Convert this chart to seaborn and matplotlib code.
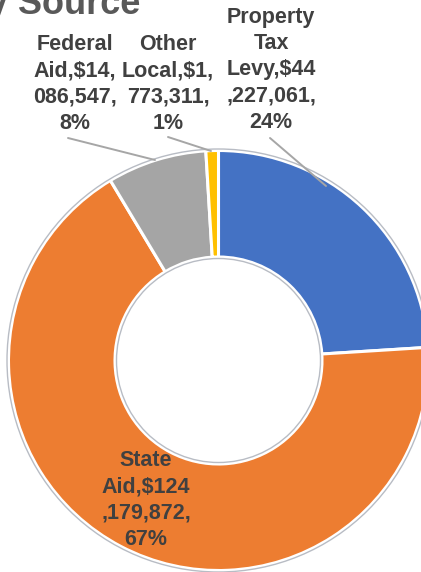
import numpy as np
import matplotlib
matplotlib.use('Agg')
import matplotlib.pyplot as plt
import seaborn as sns
from matplotlib.patches import Circle

# revenue sources, clockwise from 12 o'clock
sources = ['Property Tax Levy', 'State Aid', 'Federal Aid', 'Other Local']
amounts = [44227061, 124179872, 14086547, 1773311]
colors = ['#4472C4', '#ED7D31', '#A5A5A5', '#FFC000']
# data labels as wrapped in the original
label_text = ['Property\nTax\nLevy,$44\n,227,061,\n24%',
              'State\nAid,$124\n,179,872,\n67%',
              'Federal\nAid,$14,\n086,547,\n8%',
              'Other\nLocal,$1,\n773,311,\n1%']
title = 'Revenue by Source'

sns.set_theme(style='white')
plt.rcParams['font.family'] = ['Liberation Sans', 'DejaVu Sans']

W, H = 421, 572
fig = plt.figure(figsize=(W / 100, H / 100), dpi=100)
ax = fig.add_axes([0, 0, 1, 1])

cx, cy = 218.5, H - 360.5
R, r = 210, 103.5

ax.pie(amounts, colors=colors, startangle=90, counterclock=False,
       center=(cx, cy), radius=R,
       wedgeprops=dict(width=R - r, edgecolor='white', linewidth=2.2))

# faint outline around the ring
ax.add_patch(Circle((cx, cy), R + 1.5, fill=False, ec='#b8bcc4', lw=1.0))
ax.add_patch(Circle((cx, cy), r - 1.5, fill=False, ec='#b8bcc4', lw=1.0))

ax.set_xlim(0, W)
ax.set_ylim(0, H)
ax.set_aspect('equal')
ax.axis('off')

txt = '#404040'
# label placement (pixel coords, y from top)
lab_pos = [(271, 70), (146, 500), (75, 84), (168, 84)]
for s, (x, y) in zip(label_text, lab_pos):
    ax.text(x, H - y, s, ha='center', va='center', fontsize=15.5,
            fontweight='bold', color=txt, linespacing=1.33)

# leader lines
leaders = [((270, 138), (326, 186)),
           ((68, 138), (155, 160)),
           ((168, 137), (211, 151))]
for (x0, y0), (x1, y1) in leaders:
    ax.plot([x0, x1], [H - y0, H - y1], color='#a6a6a6', lw=1.4)

ax.text(140, H - 14, title, ha='right', va='baseline', fontsize=26,
        fontweight='bold', color='#595959')

fig.savefig('out.png', dpi=100)
